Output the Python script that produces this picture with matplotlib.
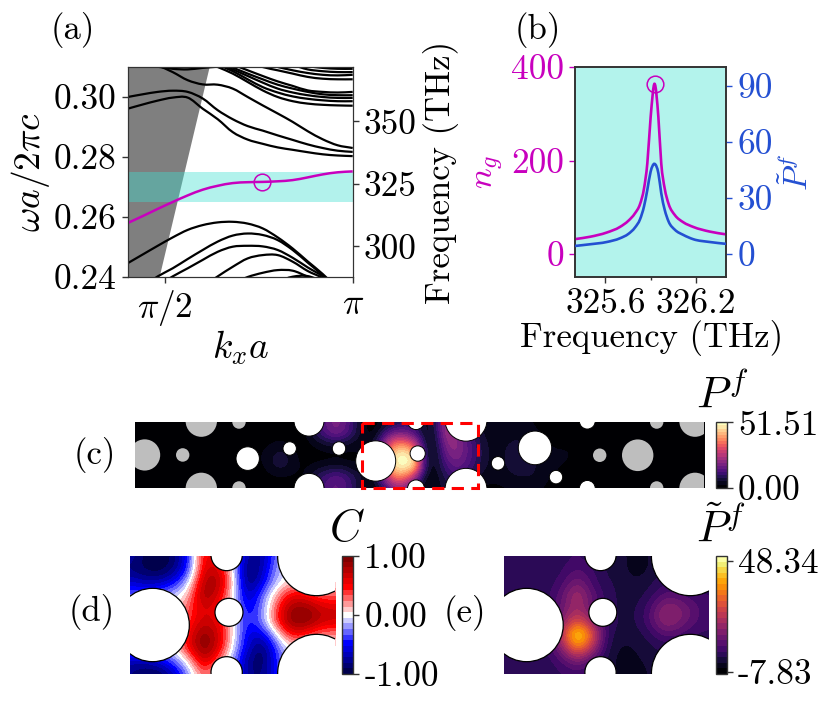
import numpy as np
import matplotlib
matplotlib.use('Agg')
import matplotlib.pyplot as plt
from matplotlib.patches import Circle, Rectangle, PathPatch
from matplotlib.path import Path

plt.rcParams['font.family'] = ['cmr10', 'DejaVu Serif']
plt.rcParams['mathtext.fontset'] = 'cm'
plt.rcParams['axes.formatter.use_mathtext'] = True
plt.rcParams['axes.unicode_minus'] = False

# ----------------------------------------------------------------
# panel (a): band diagram, k in units of pi/a
# ----------------------------------------------------------------
n = np.nan
k_grid = [0.40, 0.44, 0.48, 0.52, 0.56, 0.60, 0.64, 0.68, 0.72, 0.76, 0.80, 0.84, 0.88, 0.92, 0.96, 1.00]

bands_upper = [
    [.2961, .2975, .2988, .2998, .2998, .2961, .2926, .2883, .2858, .2844, .2832, .2824, .2816, .2809, .2805, .2803],
    [.3000, .3009, .3017, .3021, .3017, .2995, .2956, .2926, .2903, .2888, .2872, .2857, .2842, .2830, .2821, .2817],
    [n, n, .3106, .3083, .3056, .3042, .3041, .3028, .3000, .2972, .2945, .2917, .2886, .2859, .2839, .2830],
    [n, n, .3101, .3094, .3092, .3097, .3101, n, n, n, n, n, n, n, n, n],
    [n, n, n, n, n, n, .3100, .3078, .3050, .3022, .3000, .2986, .2978, .2974, .2972, .2971],
    [n, n, n, n, n, n, .3108, .3086, .3059, .3033, .3015, .3002, .2994, .2989, .2986, .2986],
    [n, n, n, n, n, n, .3113, .3092, .3070, .3048, .3028, .3015, .3006, .3000, .2997, .2997],
    [n, n, n, n, n, n, .3117, .3098, .3078, .3059, .3041, .3028, .3017, .3009, .3006, .3006],
    [n, n, n, n, n, n, n, .3108, .3089, .3070, .3052, .3037, .3022, .3017, .3015, .3017],
    [n, n, n, n, n, n, n, n, .3117, .3100, .3089, .3078, .3067, .3061, .3059, .3059],
    [n, n, n, n, n, n, n, n, n, .3111, .3100, .3089, .3080, .3074, .3072, .3074],
    [n, n, n, n, n, n, n, n, n, n, .3111, .3106, .3092, .3086, .3083, .3083],
    [n, n, n, n, n, n, n, n, n, n, n, .3111, .3103, .3097, .3094, .3094],
    [n, n, n, n, n, n, n, n, n, n, n, n, .3113, .3106, .3103, .3103],
]
bands_lower = [
    [.2446, .2475, .2504, .2532, .2557, .2573, .2582, .2584, .2578, .2562, .2532, .2495, .2452, .2410, .2362, n],
    [n, .2368, .2402, .2429, .2460, .2490, .2518, .2538, .2545, .2540, .2523, .2490, .2448, .2406, .2360, n],
    [n, n, .2371, .2402, .2429, .2457, .2484, .2501, .2504, .2502, .2490, .2464, .2432, .2402, .2358, n],
    [n, n, n, n, n, .2368, .2402, .2434, .2462, .2473, .2473, .2451, .2420, .2396, .2356, n],
    [n, n, n, n, n, n, n, .2379, .2400, .2414, .2423, .2421, .2401, .2379, n, n],
    [n, n, n, n, n, n, n, n, n, n, .2385, .2401, .2403, .2385, n, n],
]
band_guided = [.2580, .2603, .2627, .2650, .2672, .2691, .2704, .2713, .2716, .2717, .2719, .2723, .2732, .2742, .2749, .2752]
light_line_w = [0.24, 0.31]
light_line_k = [0.4835, 0.617]
marker_k = 0.757
marker_w = 0.2717

# ----------------------------------------------------------------
# panel (b): group index and filtered Purcell factor
# ----------------------------------------------------------------
freq_thz = [325.40, 325.499, 325.609, 325.697, 325.752, 325.796, 325.830, 325.856, 325.878, 325.90,
            325.926, 325.951, 325.970, 325.993, 326.019, 326.061, 326.116, 326.182, 326.292, 326.402]
n_group = [32, 37, 46, 58, 71, 87, 107, 140, 194, 293, 364, 293, 194, 140, 107, 83, 68, 58, 48, 42]
p_tilde = [4.3, 5.2, 6.4, 8.4, 10.7, 14.1, 18.6, 25.4, 34.3, 44.1, 48.2, 43.2, 32.5, 23.6, 17.3, 12.9, 10.2, 7.9, 6.4, 5.4]
peak_index = 10

# ----------------------------------------------------------------
# panel (c): Purcell map along the waveguide, sampled every 10 px
# ----------------------------------------------------------------
strip_x = np.arange(135, 706, 10)
strip_y = [422, 433, 444, 455, 466, 477, 487]
strip_start = 12   # first non-zero column, everything else is ~0
strip_block = [
    [0, 0, 0, 0, 1, 1, 8, 15, 19, 16, 8, 2, 1, 3, 6, 9, 10, 3, 8, 24, 16, 10, 6, 3, 2, 3, 4, 3, 2, 1, 1, 1, 1, 1, 0, 0],
    [0, 0, 1, 1, 1, 2, 8, 14, 18, 15, 8, 2, 2, 12, 18, 17, 12, 3, 6, 24, 20, 14, 8, 4, 3, 4, 5, 4, 3, 2, 1, 1, 1, 1, 0, 0],
    [1, 2, 3, 3, 1, 1, 3, 5, 6, 5, 3, 3, 6, 24, 38, 38, 28, 5, 4, 20, 22, 16, 10, 5, 4, 5, 5, 5, 4, 3, 2, 2, 2, 1, 1, 0],
    [2, 3, 6, 6, 3, 1, 1, 1, 1, 1, 2, 3, 10, 34, 50, 52, 44, 6, 3, 16, 20, 16, 11, 5, 4, 5, 6, 6, 5, 3, 3, 3, 2, 2, 1, 0],
    [1, 3, 6, 6, 3, 2, 3, 4, 5, 4, 2, 3, 10, 34, 50, 52, 46, 8, 3, 12, 16, 14, 9, 5, 4, 5, 6, 6, 5, 4, 3, 2, 2, 1, 1, 0],
    [0, 1, 2, 2, 2, 2, 8, 12, 15, 13, 8, 3, 6, 24, 38, 36, 22, 3, 3, 8, 12, 10, 6, 3, 3, 4, 5, 5, 5, 3, 2, 1, 1, 1, 0, 0],
    [0, 0, 1, 1, 1, 2, 8, 13, 16, 13, 8, 2, 2, 10, 20, 18, 8, 2, 3, 6, 8, 6, 3, 2, 2, 2, 3, 3, 3, 2, 1, 1, 1, 0, 0, 0],
]
# holes of the strip (x, y, r), grey = unoptimised cells
grey_x = [144.7, 182.7, 201.3, 201.3, 239, 239, 599.7, 637.7, 656.7, 656.7, 695, 695]
grey_y = [454.7, 454.7, 421, 488, 422, 487.5, 455, 455, 422, 487.5, 421, 488]
grey_r = [15.5, 6.7, 15.7, 15.7, 6.7, 6.7, 6.7, 15.7, 6.7, 6.7, 15.7, 15.7]
white_x = [247.7, 289.7, 309, 309, 339, 375.7, 417.7, 416, 416, 466, 466, 498, 535, 556, 587.3, 587.3]
white_y = [458.3, 448.3, 421, 488, 448.3, 460.7, 453.3, 421, 488, 420, 489, 463, 447.7, 476.7, 421, 488]
white_r = [11.7, 6.7, 15, 15, 6.7, 20, 7.6, 8.5, 8.5, 21, 21, 6.7, 16.7, 6.7, 8, 8]

# ----------------------------------------------------------------
# panels (d), (e): unit cell detail, 15 x 10 samples
# ----------------------------------------------------------------
cell_x = np.linspace(210, 826, 15)
cell_y = np.linspace(168, 522, 10)
cell_hole_x = [278, 507, 500, 500, 770, 770]
cell_hole_y = [375, 337, 165, 517, 170, 520]
cell_hole_r = [110, 42, 47, 47, 117, 117]

corr_map = [
    [-.70, -.95, -1.0, -.90, -.45, .60, .50, -.10, -.80, -.75, -.25, 0, 0, 0, 0],
    [-.85, -.95, -1.0, -.85, -.40, .65, .70, 0, -.95, -.70, -.15, 0, 0, 0, 0],
    [-.60, -.70, -.70, -.50, -.10, .80, .85, .10, -.95, -.55, -.10, .10, .10, 0, 0],
    [-.30, -.30, -.20, -.10, .15, .90, .65, 0, -.75, -.30, .20, .60, .50, .30, .30],
    [0, 0, 0, 0, .35, .65, .50, 0, -.60, -.25, .40, .90, .90, .70, .65],
    [0, 0, 0, 0, .40, .70, .60, 0, -.50, -.25, .45, .95, .95, .70, .65],
    [0, 0, 0, 0, .55, .95, .70, .05, -.60, -.60, -.05, .55, .40, .20, .20],
    [-.10, -.10, -.10, 0, .55, 1.0, .65, -.05, -.60, -.95, -.30, 0, 0, 0, 0],
    [-.70, -.70, -.55, -.30, .05, .75, .30, -.20, -.80, -.95, -.40, 0, 0, 0, 0],
    [-.80, -.95, -.95, -.70, -.20, .35, 0, -.20, -.80, -.85, -.45, 0, 0, 0, 0],
]
ptilde_map = [
    [0, 0, 0, 0, 1, 3, 0, -1, -2, -5, -3, 0, 0, 0, 0],
    [0, 0, 0, 0, 2, 6, 3, -1, -2, -5, -3, 0, 0, 0, 0],
    [0, 0, 0, 1, 4, 12, 4, 0, -1, -3, -1, 2, 2, 0, 0],
    [1, 1, 1, 1, 8, 20, 8, 1, -1, -2, 1, 7, 6, 3, 3],
    [1, 1, 1, 2, 9, 18, 8, 1, -1, -1, 5, 16, 13, 7, 3],
    [1, 1, 1, 2, 13, 28, 15, 2, -1, -1, 6, 16, 12, 6, 3],
    [1, 1, 1, 3, 22, 52, 30, 1, -2, -2, 1, 7, 5, 2, 2],
    [0, 0, 1, 2, 14, 36, 20, 0, -4, -3, -1, 0, 0, 0, 0],
    [0, 0, 0, 1, 5, 12, 5, -1, -5, -4, -2, 0, 0, 0, 0],
    [0, 0, 0, 1, 2, 4, 1, -1, -4, -5, -3, 0, 0, 0, 0],
]

# ----------------------------------------------------------------
# layout helpers, everything placed in pixels of the 830x703 figure
# ----------------------------------------------------------------
W, H = 830, 703
FS = 25
TICK_FS = 25.5
MAGENTA = '#c800be'
BLUE = '#2450d2'
CYAN = '#b3f3ec'
SPINE = '#333333'

fig = plt.figure(figsize=(W / 100, H / 100), dpi=100)


def axes_px(x0, y0, x1, y1):
    return fig.add_axes([x0 / W, 1 - y1 / H, (x1 - x0) / W, (y1 - y0) / H])


def text_px(x, y, s, **kw):
    kw.setdefault('fontsize', FS)
    fig.text(x / W, 1 - y / H, s, ha='center', va='center', **kw)


def smooth_curve(ax, xs, ys, color, lw, zorder):
    # the read points joined with a bezier path instead of straight pieces
    xs = np.asarray(xs, float)
    ys = np.asarray(ys, float)
    keep = ~np.isnan(ys)
    xs, ys = xs[keep], ys[keep]
    slope = np.gradient(ys, xs)
    verts = [(xs[0], ys[0])]
    codes = [Path.MOVETO]
    for i in range(len(xs) - 1):
        dx = xs[i + 1] - xs[i]
        verts += [(xs[i] + dx / 3, ys[i] + slope[i] * dx / 3),
                  (xs[i + 1] - dx / 3, ys[i + 1] - slope[i + 1] * dx / 3),
                  (xs[i + 1], ys[i + 1])]
        codes += [Path.CURVE4] * 3
    ax.add_patch(PathPatch(Path(verts, codes), fc='none', ec=color, lw=lw, zorder=zorder))


def field(ax, xs, ys, values, cmap, vmin, vmax):
    dx = xs[1] - xs[0]
    dy = ys[1] - ys[0]
    im = ax.imshow(values, cmap=plt.get_cmap(cmap).resampled(21), vmin=vmin, vmax=vmax,
                   extent=(xs[0] - dx / 2, xs[-1] + dx / 2, ys[-1] + dy / 2, ys[0] - dy / 2),
                   interpolation='bicubic', interpolation_stage='data', aspect='auto')
    ax.set_xlim(xs[0], xs[-1])
    ax.set_ylim(ys[-1], ys[0])
    ax.axis('off')
    return im


def colorbar(im, rect, ticks, labels):
    cax = axes_px(*rect)
    cb = fig.colorbar(im, cax=cax)
    cb.set_ticks(ticks)
    cb.set_ticklabels(labels)
    cb.ax.tick_params(labelsize=TICK_FS, length=4, width=1, pad=4, color=SPINE)
    cb.ax.minorticks_off()
    cb.outline.set_edgecolor(SPINE)
    cb.outline.set_linewidth(1.0)


# ----------------------------------------------------------------
# (a)
# ----------------------------------------------------------------
ax_a = axes_px(127.7, 67, 352.7, 277)
ax_a.fill_betweenx(light_line_w, [0.4, 0.4], light_line_k, color='black', alpha=0.5, lw=0, zorder=1)
ax_a.axhspan(0.265, 0.275, color='turquoise', alpha=0.4, lw=0, zorder=2)
for band in bands_upper + bands_lower:
    smooth_curve(ax_a, k_grid, band, 'black', 1.6, 3)
smooth_curve(ax_a, k_grid, band_guided, MAGENTA, 1.8, 4)
ax_a.plot([marker_k], [marker_w], 'o', mfc='none', mec=MAGENTA, ms=12, mew=1.1, zorder=5)
ax_a.set_xlim(0.4, 1.0)
ax_a.set_ylim(0.24, 0.31)
ax_a.set_xticks([0.5, 1.0])
ax_a.set_xticklabels([r'$\pi/2$', r'$\pi$'])
ax_a.set_yticks([0.24, 0.26, 0.28, 0.30])
ax_a.set_yticklabels(['0.24', '0.26', '0.28', '0.30'])
ax_a.tick_params(labelsize=TICK_FS, length=4, width=1, pad=4, color=SPINE)

ax_a2 = ax_a.twinx()
ax_a2.set_ylim(287.7, 371.7)
ax_a2.set_yticks([300, 325, 350])
ax_a2.set_yticklabels(['300', '325', '350'])
ax_a2.tick_params(labelsize=TICK_FS, length=4, width=1, pad=4, color=SPINE)
for ax in (ax_a, ax_a2):
    for sp in ax.spines.values():
        sp.set_color(SPINE)

text_px(73, 30, '(a)')
text_px(30, 172, r'$\omega a/2\pi c$', rotation=90, fontsize=27)
text_px(241, 348, r'$k_x a$', fontsize=27)
text_px(441, 172, 'Frequency (THz)', rotation=90)

# ----------------------------------------------------------------
# (b)
# ----------------------------------------------------------------
ax_b = axes_px(575, 67, 726.3, 277)
ax_b.set_facecolor(CYAN)
smooth_curve(ax_b, freq_thz, n_group, MAGENTA, 1.9, 3)
ax_b.plot([freq_thz[peak_index]], [n_group[peak_index]], 'o', mfc='none', mec=MAGENTA, ms=12, mew=1.1, zorder=5)
ax_b.set_xlim(325.4, 326.4)
ax_b.set_ylim(-49, 400)
ax_b.set_xticks([325.6, 326.2])
ax_b.set_xticklabels(['325.6', '326.2'])
ax_b.set_xticks([325.9], minor=True)
ax_b.set_yticks([0, 200, 400])
ax_b.set_yticklabels(['0', '200', '400'])
ax_b.tick_params(axis='x', labelsize=TICK_FS, length=4, width=1, pad=4, color=SPINE)
ax_b.tick_params(axis='x', which='minor', length=2, width=1, color=SPINE)
ax_b.tick_params(axis='y', labelsize=TICK_FS, length=4, width=1, pad=4, color=MAGENTA, labelcolor=MAGENTA)

ax_b2 = ax_b.twinx()
smooth_curve(ax_b2, freq_thz, p_tilde, BLUE, 1.9, 4)
ax_b2.set_ylim(-12.3, 100)
ax_b2.set_yticks([0, 30, 60, 90])
ax_b2.set_yticklabels(['0', '30', '60', '90'])
ax_b2.tick_params(axis='y', labelsize=TICK_FS, length=4, width=1, pad=4, color=BLUE, labelcolor=BLUE)
for ax in (ax_b, ax_b2):
    for sp in ax.spines.values():
        sp.set_color(SPINE)
        sp.set_linewidth(1.2)

text_px(538, 30, '(b)')
text_px(490, 172, r'$n_g$', rotation=90, color=MAGENTA, fontsize=25)
text_px(797, 172, r'$\tilde{P}^f$', rotation=90, color=BLUE, fontsize=24)
text_px(651.7, 338, 'Frequency (THz)')

# ----------------------------------------------------------------
# (c)
# ----------------------------------------------------------------
strip_map = np.zeros((len(strip_y), len(strip_x)))
strip_map[:, strip_start:strip_start + 36] = strip_block
ax_c = axes_px(135, 422, 704, 487.5)
im_c = field(ax_c, strip_x, strip_y, strip_map, 'magma', 0, 51.51)
ax_c.set_xlim(135, 704)
for x, y, r in zip(grey_x, grey_y, grey_r):
    ax_c.add_patch(Circle((x, y), r, fc='#bebebe', ec='none', zorder=3))
for x, y, r in zip(white_x, white_y, white_r):
    ax_c.add_patch(Circle((x, y), r, fc='white', ec='black', lw=0.7, zorder=3))
ax_c.add_patch(Rectangle((362.3, 422.5), 115.4, 64.5, fc='none', ec='red', lw=2.2,
                         ls=(0, (4, 2.4)), zorder=5, clip_on=False))
colorbar(im_c, (715.7, 422.3, 726.7, 487.7), [0, 51.51], ['0.00', '51.51'])
text_px(95, 455, '(c)')
text_px(722, 396, r'$P^f$', fontsize=32)

# ----------------------------------------------------------------
# (d), (e)
# ----------------------------------------------------------------
ax_d = axes_px(130, 556, 335.3, 674)
im_d = field(ax_d, cell_x, cell_y, corr_map, 'seismic', -1, 1)
ax_e = axes_px(504, 556, 709, 674)
im_e = field(ax_e, cell_x, cell_y, ptilde_map, 'inferno', -8.84, 50.87)
for ax in (ax_d, ax_e):
    for x, y, r in zip(cell_hole_x, cell_hole_y, cell_hole_r):
        ax.add_patch(Circle((x, y), r, fc='white', ec='black', lw=0.9, zorder=3))

colorbar(im_d, (341.7, 556, 353.3, 674), [-1, 0, 1], ['-1.00', '0.00', '1.00'])
colorbar(im_e, (715.7, 556, 726.7, 674), [-7.83, 48.34], ['-7.83', '48.34'])
text_px(92, 612, '(d)')
text_px(465, 613, '(e)')
text_px(347, 530, r'$C$', fontsize=32)
text_px(721, 530, r'$\tilde{P}^f$', fontsize=32)

fig.savefig('out.png', dpi=100)
